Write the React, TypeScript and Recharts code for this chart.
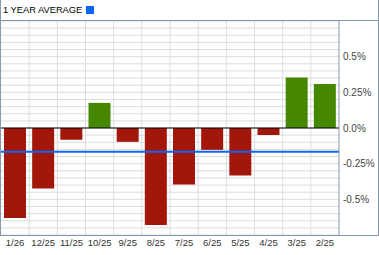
import { Bar, BarChart, CartesianGrid, Cell, ReferenceLine, XAxis, YAxis } from "recharts";

const months = ["1/26", "12/25", "11/25", "10/25", "9/25", "8/25", "7/25", "6/25", "5/25", "4/25", "3/25", "2/25"];
const changes = [-0.63, -0.424, -0.083, 0.176, -0.097, -0.68, -0.396, -0.153, -0.333, -0.049, 0.354, 0.308];
const yearAverage = -0.167;

const yTickValues = [0.5, 0.25, 0, -0.25, -0.5];
const yTickLabels = ["0.5%", "0.25%", "0.0%", "-0.25%", "-0.5%"];

// grid every 0.05 between -0.75 and 0.75
const gridTicks = Array.from({ length: 31 }, (_, i) => Math.round((i - 15) * 5) / 100);

const BORDER = "#8797ad";
const RED = "#a3170a";
const GREEN = "#458800";
const BLUE = "#0a66f5";
const FONT = "'Liberation Sans', Arial, sans-serif";

const data = months.map((m, i) => ({ month: m, value: changes[i] }));

const yLabel = (v: number) => {
  const idx = yTickValues.findIndex((t) => Math.abs(t - v) < 1e-9);
  return idx >= 0 ? yTickLabels[idx] : "";
};

export default function App() {
  return (
    <div style={{ position: "absolute", left: 0, top: 0, width: 379, height: 255, background: "#fff", fontFamily: FONT }}>
      <BarChart
        width={379}
        height={255}
        data={data}
        margin={{ top: 21, right: 0, left: 1, bottom: 0 }}
        barSize={22}
      >
        <CartesianGrid
          stroke="#dddddd"
          verticalCoordinatesGenerator={({ offset }: any) =>
            months.slice(1).map((_, i) => offset.left + ((i + 1) * offset.width) / months.length)
          }
        />
        <XAxis
          dataKey="month"
          height={20}
          axisLine={false}
          tickLine={false}
          tickSize={0}
          tickMargin={4}
          interval={0}
          tick={{ fill: "#333", fontSize: 9.5, fontFamily: FONT }}
        />
        <YAxis
          orientation="right"
          width={40}
          domain={[-0.75, 0.75]}
          ticks={gridTicks}
          interval={0}
          tickFormatter={yLabel}
          axisLine={{ stroke: BORDER }}
          tickLine={false}
          tickSize={0}
          tickMargin={4}
          tick={{ fill: "#444", fontSize: 10, fontFamily: FONT }}
        />
        <Bar dataKey="value" isAnimationActive={false}>
          {data.map((d) => (
            <Cell key={d.month} fill={d.value >= 0 ? GREEN : RED} />
          ))}
        </Bar>
        <ReferenceLine y={0} stroke="#000" />
        <ReferenceLine y={yearAverage} stroke={BLUE} strokeWidth={2} />
      </BarChart>

      <div
        style={{
          position: "absolute",
          left: 0,
          top: 0,
          width: 379,
          height: 236,
          boxSizing: "border-box",
          borderLeft: `1px solid ${BORDER}`,
          borderRight: `1px solid ${BORDER}`,
          borderBottom: `1px solid ${BORDER}`,
          pointerEvents: "none",
        }}
      />
      <div
        style={{
          position: "absolute",
          left: 0,
          top: 0,
          width: 379,
          height: 21,
          boxSizing: "border-box",
          borderLeft: `1px solid ${BORDER}`,
          borderRight: `1px solid ${BORDER}`,
          borderBottom: `1px solid ${BORDER}`,
          background: "#fff",
          display: "flex",
          alignItems: "center",
          paddingLeft: 2,
          fontSize: 9.3,
          color: "#000",
        }}
      >
        <span>1 YEAR AVERAGE</span>
        <span style={{ display: "inline-block", width: 8, height: 8, background: BLUE, marginLeft: 4 }} />
      </div>
    </div>
  );
}
